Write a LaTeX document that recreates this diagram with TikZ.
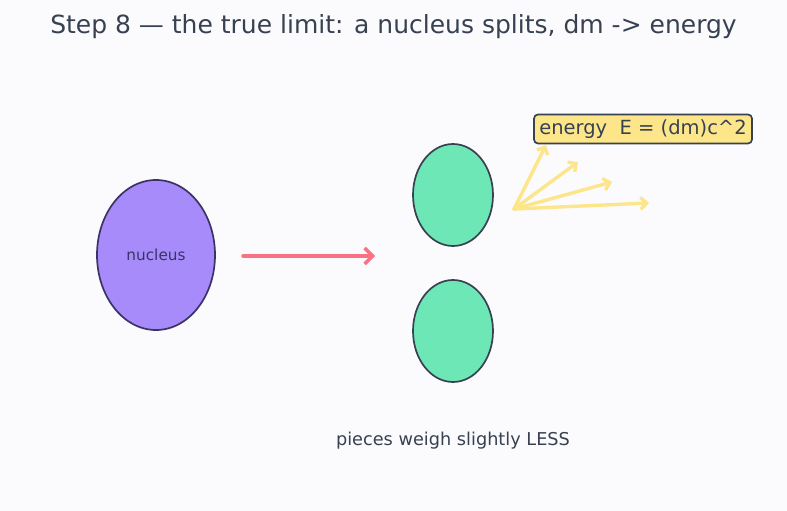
\documentclass[tikz,border=0pt]{standalone}
\usepackage{fontspec}
\setmainfont{DejaVu Sans}
\usetikzlibrary{arrows.meta,positioning,calc}
\definecolor{bgcol}{HTML}{FBFBFD}
\definecolor{inkcol}{HTML}{374151}
\definecolor{violetfill}{HTML}{A78BFA}
\definecolor{violetline}{HTML}{3B3366}
\definecolor{mintfill}{HTML}{6EE7B7}
\definecolor{roseline}{HTML}{F87185}
\definecolor{sunfill}{HTML}{FDE68A}
\tikzset{nucleusdot/.style={
            draw=violetline,
            fill=violetfill,
            ellipse,
            line width=1.7pt,
            inner sep=0pt,
            minimum width=118pt,
            minimum height=150pt,
            text=violetline,
            font=\fontsize{15.3}{18}\selectfont
        },
        piece/.style={
            draw=inkcol,
            fill=mintfill,
            ellipse,
            line width=1.7pt,
            inner sep=0pt,
            minimum width=80pt,
            minimum height=102pt
        },
        energybox/.style={
            draw=inkcol,
            fill=sunfill,
            line width=1.7pt,
            rounded corners=4pt,
            inner sep=0pt,
            minimum width=218pt,
            minimum height=29pt,
            text=inkcol,
            font=\fontsize{19.5}{22}\selectfont
        },
        split/.style={
            roseline,
            line width=3.5pt,
            line cap=round,
            -{Straight Barb[length=8pt,width=16pt,line width=3.5pt]}
        },
        ray/.style={
            sunfill,
            line width=3.4pt,
            line cap=round,
            -{Straight Barb[length=6pt,width=12pt,line width=3.4pt]}
        },
        label/.style={
            text=inkcol,
            inner sep=0pt
        }
    }
\usetikzlibrary{shapes.geometric}

\begin{document}
\begin{tikzpicture}[x=1pt,y=-1pt]
        \fill[bgcol] (0,0) rectangle (787,511);
        \useasboundingbox (0,0) rectangle (787,511);

        \node[label,font=\fontsize{25}{30}\selectfont] (title) at (393.5,27)
            {Step 8 — the true limit: a nucleus splits, dm -> energy};

        \node[nucleusdot] (nucleus) at (156,255) {nucleus};
        \node[piece] (upper) at (453,195) {};
        \node[piece] (lower) at (453,331) {};
        \node[energybox] (energy) at (643,129) {energy\ \ E = (dm)c\^{}2};
        \node[label,font=\fontsize{17.7}{21}\selectfont] (note) at (453,441)
            {pieces weigh slightly LESS};

        \coordinate (from) at (243,256);
        \coordinate (to) at (375,256);
        \draw[split] (from) -- (to);

        % burst of energy
        \coordinate (burst) at (514,209);
        \coordinate (ray1) at (546,145);
        \coordinate (ray2) at (578,162);
        \coordinate (ray3) at (612,182);
        \coordinate (ray4) at (649,203);
        \foreach \r in {ray1,ray2,ray3,ray4}
            \draw[ray] (burst) -- (\r);

    \end{tikzpicture}
\end{document}
